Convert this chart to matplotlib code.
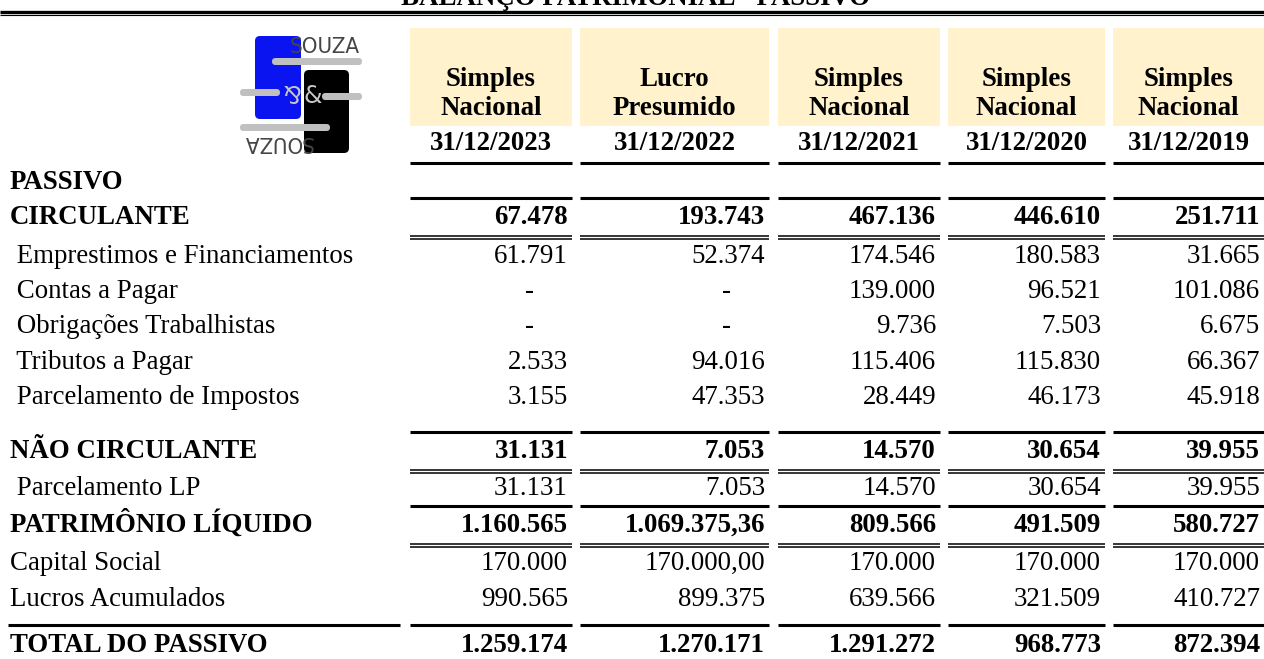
import matplotlib
matplotlib.use("Agg")
import matplotlib.pyplot as plt
from matplotlib.patches import Rectangle, FancyBboxPatch

# header data
regimeTop = ["Simples", "Lucro", "Simples", "Simples", "Simples"]
regimeBottom = ["Nacional", "Presumido", "Nacional", "Nacional", "Nacional"]
dates = ["31/12/2023", "31/12/2022", "31/12/2021", "31/12/2020", "31/12/2019"]

# row labels and values (as printed in the statement)
labels = ["PASSIVO", "CIRCULANTE", " Emprestimos e Financiamentos", " Contas a Pagar",
          " Obrigações Trabalhistas", " Tributos a Pagar", " Parcelamento de Impostos",
          "NÃO CIRCULANTE", " Parcelamento LP", "PATRIMÔNIO LÍQUIDO",
          "Capital Social", "Lucros Acumulados", "TOTAL DO PASSIVO"]
kinds = ["head", "total", "item", "item", "item", "item", "item",
         "total", "item", "total", "item", "item", "grand"]

circulante = ["67.478", "193.743", "467.136", "446.610", "251.711"]
emprestimos = ["61.791", "52.374", "174.546", "180.583", "31.665"]
contasPagar = ["-", "-", "139.000", "96.521", "101.086"]
obrigacoes = ["-", "-", "9.736", "7.503", "6.675"]
tributos = ["2.533", "94.016", "115.406", "115.830", "66.367"]
parcelamento = ["3.155", "47.353", "28.449", "46.173", "45.918"]
naoCirculante = ["31.131", "7.053", "14.570", "30.654", "39.955"]
parcelamentoLP = ["31.131", "7.053", "14.570", "30.654", "39.955"]
patrimonio = ["1.160.565", "1.069.375,36", "809.566", "491.509", "580.727"]
capitalSocial = ["170.000", "170.000,00", "170.000", "170.000", "170.000"]
lucrosAcum = ["990.565", "899.375", "639.566", "321.509", "410.727"]
totalPassivo = ["1.259.174", "1.270.171", "1.291.272", "968.773", "872.394"]

values = [None, circulante, emprestimos, contasPagar, obrigacoes, tributos, parcelamento,
          naoCirculante, parcelamentoLP, patrimonio, capitalSocial, lucrosAcum, totalPassivo]

# layout (pixel coordinates)
colLeft = [410, 580, 778, 948, 1113]
colRight = [572, 769, 940, 1105, 1264]
rowY = [181, 216, 255, 290, 325, 361, 396, 450, 487, 524, 562, 598, 644]

FONT = "Liberation Serif"
FS = 19.4
cream = "#FFF2CC"

fig = plt.figure(figsize=(12.64, 6.59), dpi=100)
ax = fig.add_axes([0, 0, 1, 1])
ax.set_xlim(0, 1264)
ax.set_ylim(659, 0)
ax.axis("off")

def hline(x0, x1, y, lw):
    ax.plot([x0, x1], [y, y], color="black", lw=lw, solid_capstyle="butt")

# title (mostly cut off at the top edge, as in the source) and top rule
ax.text(636, 5, "BALANÇO PATRIMONIAL - PASSIVO", family=FONT, fontsize=FS,
        fontweight="bold", ha="center", va="baseline")
hline(0, 1264, 11.5, 2.4)
hline(0, 1264, 14.8, 0.8)

# logo
ax.add_patch(FancyBboxPatch((255, 36), 46, 83, boxstyle="round,pad=0,rounding_size=5",
                            facecolor="#0A14F0", edgecolor="none"))
ax.add_patch(FancyBboxPatch((304, 70), 45, 83, boxstyle="round,pad=0,rounding_size=5",
                            facecolor="black", edgecolor="none"))
for (bx, by, bw) in [(272, 58, 90), (240, 89, 40), (322, 93, 40), (240, 124, 90)]:
    ax.add_patch(FancyBboxPatch((bx, by), bw, 7, boxstyle="round,pad=0,rounding_size=3.5",
                                facecolor="#C0C0C0", edgecolor="none"))
ax.text(325, 47, "SOUZA", family="DejaVu Sans", fontstretch="condensed", fontsize=16,
        color="#454545", ha="center", va="center")
ax.text(278, 142, "SOUZA", family="DejaVu Sans", fontstretch="condensed", fontsize=16,
        color="#454545", ha="center", va="center", rotation=180)
ax.text(290, 91, "&", family="DejaVu Sans", fontsize=17, color="#C8C8C8",
        ha="center", va="center", rotation=180)
ax.text(313, 96, "&", family="DejaVu Sans", fontsize=17, color="#C8C8C8",
        ha="center", va="center")

# column headers
for i in range(5):
    cx = (colLeft[i] + colRight[i]) / 2
    ax.add_patch(Rectangle((colLeft[i], 28), colRight[i] - colLeft[i], 98,
                           facecolor=cream, edgecolor="none"))
    ax.text(cx, 86, regimeTop[i], family=FONT, fontsize=FS, fontweight="bold",
            ha="center", va="baseline")
    ax.text(cx, 115, regimeBottom[i], family=FONT, fontsize=FS, fontweight="bold",
            ha="center", va="baseline")
    ax.text(cx, 150, dates[i], family=FONT, fontsize=FS, fontweight="bold",
            ha="center", va="baseline")
    hline(colLeft[i], colRight[i], 163, 2.2)

# body rows
for r in range(len(labels)):
    y = rowY[r]
    bold = kinds[r] in ("head", "total", "grand")
    weight = "bold" if bold else "normal"
    ax.text(10, y + 8, labels[r], family=FONT, fontsize=FS, fontweight=weight,
            ha="left", va="baseline")
    if kinds[r] in ("total", "grand"):
        lineY = y - 18 if kinds[r] == "total" else y - 19
        for i in range(5):
            hline(colLeft[i], colRight[i], lineY, 2.2)
        if kinds[r] == "total":
            for i in range(5):
                hline(colLeft[i], colRight[i], y + 19.5, 1.1)
                hline(colLeft[i], colRight[i], y + 23, 1.1)
        else:
            hline(8, 400, lineY, 2.2)
    if values[r] is None:
        continue
    for i in range(5):
        v = values[r][i]
        xr = colRight[i] - 4
        if v == "-":
            xr = colRight[i] - 38
        ax.text(xr, y + 8, v, family=FONT, fontsize=FS, fontweight=weight,
                ha="right", va="baseline")

fig.savefig("out.png", dpi=100)
